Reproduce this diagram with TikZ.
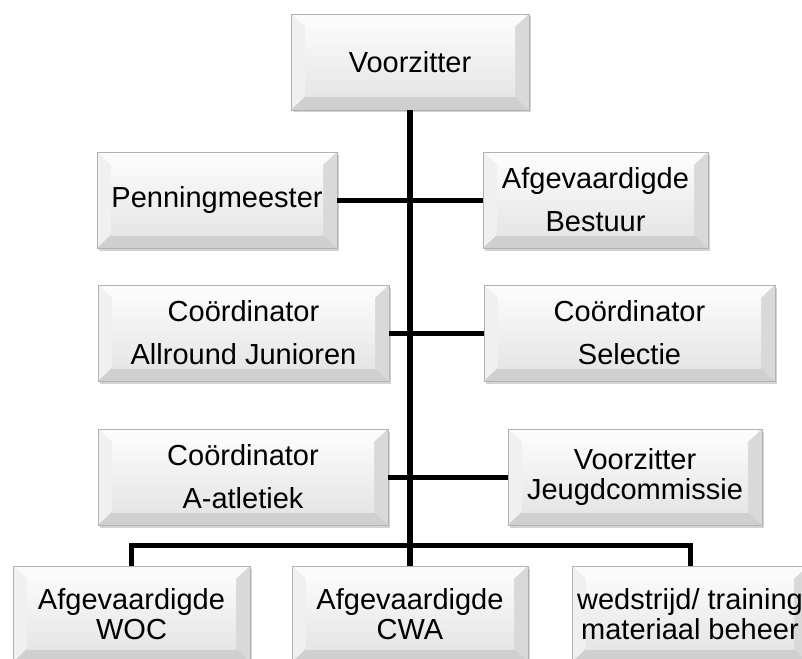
\documentclass[tikz,border=0pt]{standalone}
\usepackage{fontspec}
\setmainfont{Liberation Sans}
\usetikzlibrary{shadows}

\begin{document}
\begin{tikzpicture}[x=1pt, y=-1pt,
  box/.style={draw=gray!60, line width=0.8pt, fill=gray!15, align=center, inner sep=0pt,
    minimum height=96pt, font=\fontsize{29}{43}\selectfont,
    drop shadow={shadow xshift=1.5pt, shadow yshift=-2.5pt, opacity=0.35},
    path picture={
      \fill[gray!3] (path picture bounding box.north west) -- (path picture bounding box.north east)
        -- ([shift={(-14pt,-13pt)}]path picture bounding box.north east)
        -- ([shift={(14pt,-13pt)}]path picture bounding box.north west) -- cycle;
      \fill[gray!12] (path picture bounding box.north west) -- ([shift={(14pt,-13pt)}]path picture bounding box.north west)
        -- ([shift={(14pt,13pt)}]path picture bounding box.south west) -- (path picture bounding box.south west) -- cycle;
      \fill[gray!30] (path picture bounding box.north east) -- (path picture bounding box.south east)
        -- ([shift={(-14pt,13pt)}]path picture bounding box.south east)
        -- ([shift={(-14pt,-13pt)}]path picture bounding box.north east) -- cycle;
      \fill[gray!38] (path picture bounding box.south west) -- ([shift={(14pt,13pt)}]path picture bounding box.south west)
        -- ([shift={(-14pt,13pt)}]path picture bounding box.south east) -- (path picture bounding box.south east) -- cycle;
      \shade[top color=gray!4, bottom color=gray!20] ([shift={(14pt,-13pt)}]path picture bounding box.north west)
        rectangle ([shift={(-14pt,13pt)}]path picture bounding box.south east);
    }},
  tight/.style={font=\fontsize{29}{30}\selectfont},
  link/.style={line width=5pt}]
  \useasboundingbox (0,0) rectangle (802,658);

  \node[box, minimum width=238pt] (voorzitter) at (410,62) {Voorzitter};
  \node[box, minimum width=240pt] (penning) at (217,200) {Penningmeester};
  \node[box, minimum width=225pt] (bestuur) at (595.5,200) {Afgevaardigde\\Bestuur};
  \node[box, minimum width=291pt] (allround) at (243.5,333) {Coördinator\\Allround Junioren};
  \node[box, minimum width=291pt] (selectie) at (629.5,333) {Coördinator\\Selectie};
  \node[box, minimum width=290pt] (atletiek) at (243,477) {Coördinator\\A-atletiek};
  \node[box, tight, minimum width=254pt] (jeugd) at (635,477) {Voorzitter\\Jeugdcommissie};
  \node[box, tight, minimum width=237pt] (woc) at (131.5,614) {Afgevaardigde\\WOC};
  \node[box, tight, minimum width=236pt] (cwa) at (410,614) {Afgevaardigde\\CWA};
  \node[box, tight, minimum width=236pt] (materiaal) at (690,614) {wedstrijd/ training\\materiaal beheer};

  \draw[line width=6.5pt] (voorzitter.south) -- (cwa.north);
  \draw[link] (penning.east) -- (bestuur.west);
  \draw[link] (allround.east) -- (selectie.west);
  \draw[link] (atletiek.east) -- (jeugd.west);
  \draw[link] (woc.north) -- ([yshift=20pt]woc.north) -| (materiaal.north);
\end{tikzpicture}
\end{document}
